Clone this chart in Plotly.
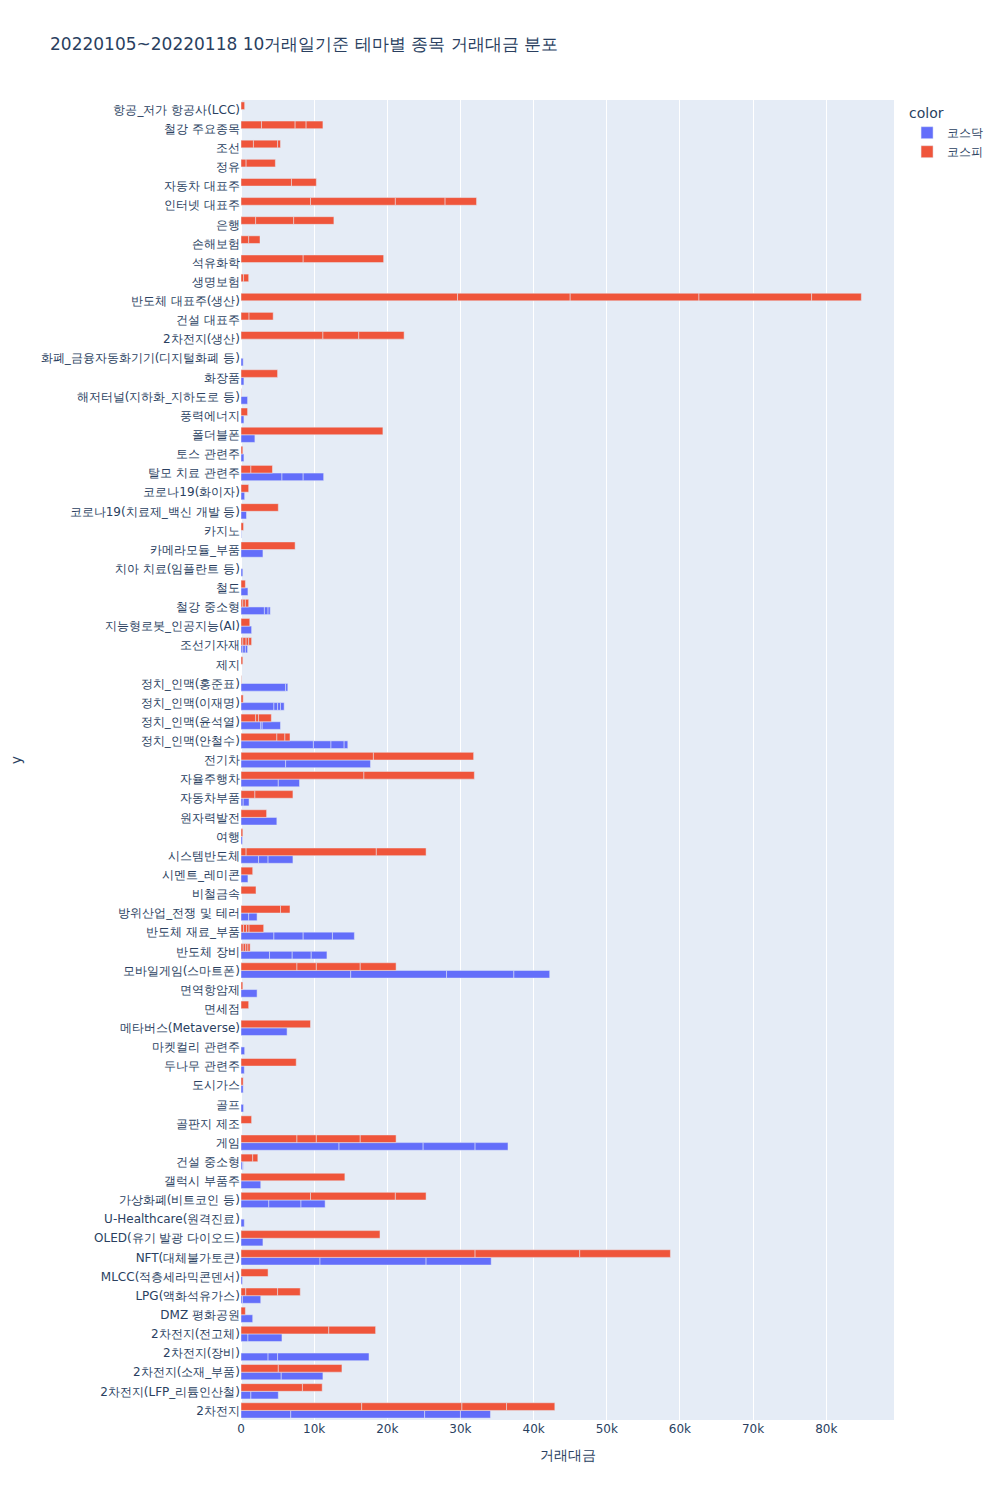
import plotly.graph_objects as go

themes = [
    "2차전지", "2차전지(LFP_리튬인산철)", "2차전지(소재_부품)", "2차전지(장비)", "2차전지(전고체)",
    "DMZ 평화공원", "LPG(액화석유가스)", "MLCC(적층세라믹콘덴서)", "NFT(대체불가토큰)",
    "OLED(유기 발광 다이오드)", "U-Healthcare(원격진료)", "가상화폐(비트코인 등)", "갤럭시 부품주",
    "건설 중소형", "게임", "골판지 제조", "골프", "도시가스", "두나무 관련주", "마켓컬리 관련주",
    "메타버스(Metaverse)", "면세점", "면역항암제", "모바일게임(스마트폰)", "반도체 장비",
    "반도체 재료_부품", "방위산업_전쟁 및 테러", "비철금속", "시멘트_레미콘", "시스템반도체", "여행",
    "원자력발전", "자동차부품", "자율주행차", "전기차", "정치_인맥(안철수)", "정치_인맥(윤석열)",
    "정치_인맥(이재명)", "정치_인맥(홍준표)", "제지", "조선기자재", "지능형로봇_인공지능(AI)",
    "철강 중소형", "철도", "치아 치료(임플란트 등)", "카메라모듈_부품", "카지노",
    "코로나19(치료제_백신 개발 등)", "코로나19(화이자)", "탈모 치료 관련주", "토스 관련주", "폴더블폰",
    "풍력에너지", "해저터널(지하화_지하도로 등)", "화장품", "화폐_금융자동화기기(디지털화폐 등)",
    "2차전지(생산)", "건설 대표주", "반도체 대표주(생산)", "생명보험", "석유화학", "손해보험", "은행",
    "인터넷 대표주", "자동차 대표주", "정유", "조선", "철강 주요종목", "항공_저가 항공사(LCC)",
]

# 코스닥 stock trading values per theme (same order as themes)
kosdaq_values = [
    [6800, 18300, 4900, 4100], [1350, 3750], [5500, 5700], [3700, 1300, 12500], [950, 4650],
    [1600], [200, 2500], [200], [10800, 14500, 8900],
    [3000], [450], [3800, 4400, 3300], [2700],
    [200, 100], [13400, 11500, 7100, 4500], [], [350], [300], [450], [500],
    [6300], [], [2200], [15000, 13100, 9200, 4900], [3900, 3100, 2600, 2150],
    [4500, 4000, 4000, 3000], [1050, 1150], [], [950], [2400, 1300, 3400], [200],
    [4900], [300, 800], [5100, 2900], [6100, 11600], [9900, 2400, 1800, 500], [2700, 200, 2500],
    [4500, 500, 400, 500], [6100, 300], [], [250, 350, 300], [1450],
    [3200, 500, 300], [950], [250], [3000], [60],
    [750], [500], [5600, 2900, 2800], [400], [1900],
    [400], [900], [400], [300],
    [], [], [], [], [], [], [],
    [], [], [], [], [], [],
]

# 코스피 stock trading values per theme (same order as themes)
kospi_values = [
    [16500, 13700, 6100, 6600], [8400, 2700], [5100, 8700], [], [12000, 6400],
    [600], [650, 4350, 3100], [3700], [32000, 14300, 12400],
    [19000], [], [9500, 11600, 4200], [14200],
    [1600, 700], [7650, 2650, 6000, 4900], [1450], [], [300], [7550], [],
    [9500], [1050], [250], [7650, 2650, 6000, 4900], [300, 350, 300, 300],
    [350, 400, 350, 2000], [5400, 1300], [2050], [1600], [700, 17800, 6800], [250],
    [3500], [1900, 5200], [16800, 15100], [18100, 13700], [4900, 1100, 700], [2000, 400, 1750],
    [300], [60], [250], [250, 450, 350, 400], [1200],
    [250, 350, 450], [600], [], [7400], [350],
    [5100], [1050], [1350, 2950], [250], [19400],
    [900], [40], [5000], [],
    [11200, 4900, 6200], [1100, 3300], [29600, 15400, 17600, 15400, 6800], [350, 700],
    [8500, 11000], [1050, 1550], [2000, 5200, 5500],
    [9500, 11600, 6800, 4300], [6900, 3400], [700, 4000], [1700, 3300, 400],
    [2800, 4600, 1500, 2300], [500],
]

markets = ["코스닥", "코스피"]
colors = ["#636efa", "#EF553B"]


def flatten(values):
    ys, xs = [], []
    for theme, vals in zip(themes, values):
        for v in vals:
            ys.append(theme)
            xs.append(v)
    return xs, ys


fig = go.Figure()
for name, vals, col in zip(markets, [kosdaq_values, kospi_values], colors):
    xs, ys = flatten(vals)
    fig.add_trace(go.Bar(
        x=xs, y=ys, name=name, orientation="h", marker_color=col,
        offsetgroup=name, alignmentgroup="True",
        hovertemplate="color=" + name + "<br>거래대금=%{x}<br>y=%{y}<extra></extra>",
    ))

fig.update_layout(
    template="plotly",
    width=1000, height=1500,
    barmode="group",
    margin=dict(l=241),
    font=dict(family="DejaVu Sans"),
    title=dict(text="20220105~20220118 10거래일기준 테마별 종목 거래대금 분포"),
    legend=dict(title=dict(text="color"), tracegroupgap=0),
    xaxis=dict(title=dict(text="거래대금")),
    yaxis=dict(title=dict(text="y"), categoryorder="array", categoryarray=themes,
               type="category", automargin=False),
)

fig.write_html("out.html", config={"displayModeBar": False},
               post_script="document.body.style.margin='0px';")
